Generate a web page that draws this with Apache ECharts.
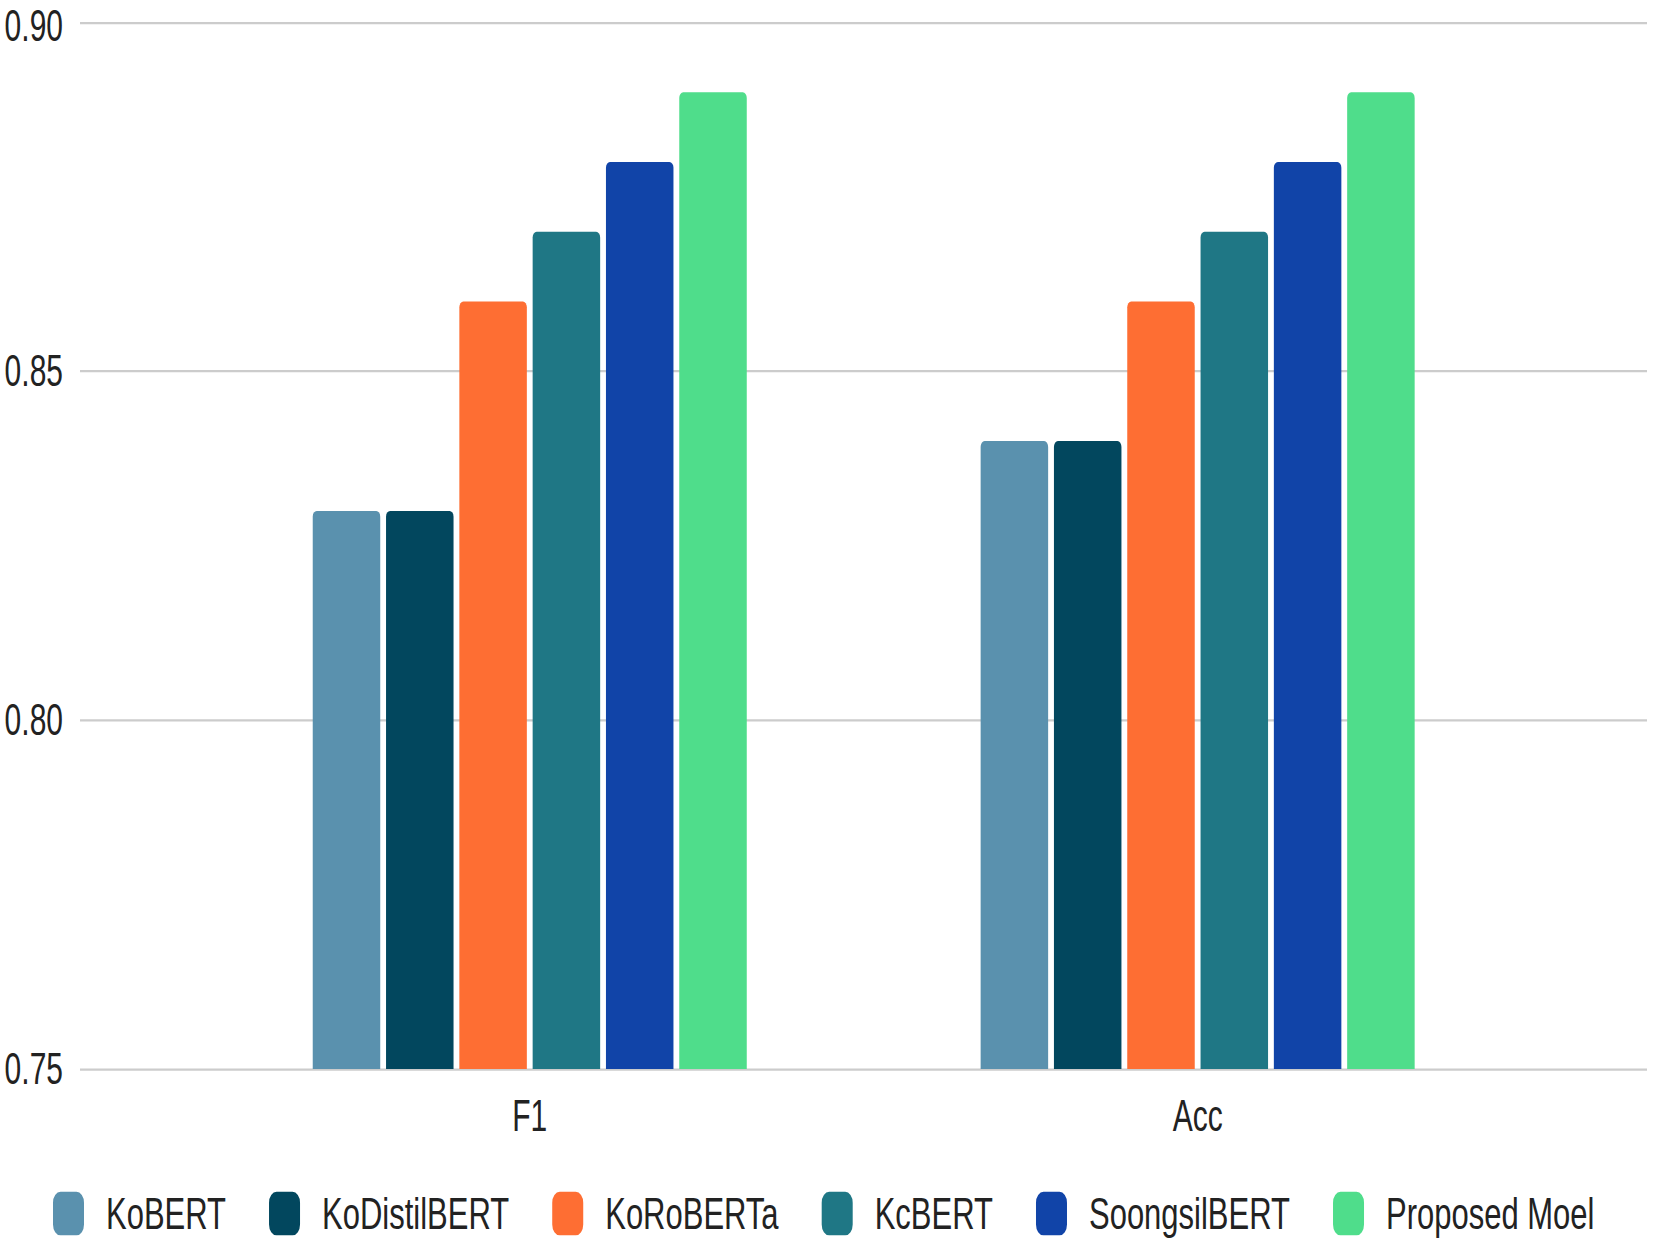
<!DOCTYPE html>
<html>
<head>
<meta charset="utf-8">
<script src="https://cdn.jsdelivr.net/npm/echarts@6/dist/echarts.min.js"></script>
<style>
  html, body { margin: 0; padding: 0; background: #ffffff; overflow: hidden; }
  #wrap { width: 1654px; height: 1245px; overflow: hidden; }
  #chart { width: 1654px; height: 859px; transform: scaleY(1.4494); transform-origin: 0 0; }
</style>
</head>
<body>
<div id="wrap"><div id="chart"></div></div>
<script>
// ---- data ----
const categories = ['F1', 'Acc'];
const seriesNames = ['KoBERT', 'KoDistilBERT', 'KoRoBERTa', 'KcBERT', 'SoongsilBERT', 'Proposed Moel'];
const koBERT       = [0.83, 0.84];
const koDistilBERT = [0.83, 0.84];
const koRoBERTa    = [0.86, 0.86];
const kcBERT       = [0.87, 0.87];
const soongsilBERT = [0.88, 0.88];
const proposedMoel = [0.89, 0.89];
const yTicks = { min: 0.75, max: 0.90, interval: 0.05 };

const seriesValues = [koBERT, koDistilBERT, koRoBERTa, kcBERT, soongsilBERT, proposedMoel];
const colors = ['#5A91AE', '#02475E', '#FE6E33', '#1F7785', '#1144A8', '#4FDD8B'];

const FONT = "'Liberation Sans', Arial, sans-serif";
const TXT = '#222222';
const GRIDC = '#cccccc';

const chart = echarts.init(document.getElementById('chart'), null, { renderer: 'svg' });

const series = seriesNames.map((name, i) => ({
  name: name,
  type: 'bar',
  xAxisIndex: 1,
  yAxisIndex: 1,
  data: seriesValues[i],
  barWidth: 67.5,
  barGap: '8.6%',
  itemStyle: { color: colors[i], borderRadius: [4, 4, 0, 0] },
  emphasis: { disabled: true },
  animation: false
}));

chart.setOption({
  animation: false,
  backgroundColor: '#ffffff',
  color: colors,
  grid: [
    { left: 80, right: 7, top: 15.5, bottom: 121.4, containLabel: false },
    { left: 195.8, right: 122.4, top: 15.5, bottom: 121.4, containLabel: false }
  ],
  xAxis: [
    { gridIndex: 0, type: 'category', data: categories, show: false },
    {
      gridIndex: 1, type: 'category', data: categories,
      axisLine: { show: false }, axisTick: { show: false },
      axisLabel: { fontFamily: FONT, fontSize: 30, color: TXT, margin: 17 }
    }
  ],
  yAxis: [
    {
      gridIndex: 0, type: 'value', min: yTicks.min, max: yTicks.max, interval: yTicks.interval,
      axisLine: { show: false }, axisTick: { show: false },
      axisLabel: {
        fontFamily: FONT, fontSize: 30, color: TXT, margin: 17,
        formatter: v => (Math.abs(v - yTicks.max) < 1e-9 ? '{t|' + v.toFixed(2) + '}' : v.toFixed(2)),
        rich: { t: { fontFamily: FONT, fontSize: 30, color: TXT, padding: [5, 0, 0, 0] } }
      },
      splitLine: { show: true, lineStyle: { color: GRIDC, width: 1.6 } }
    },
    {
      gridIndex: 1, type: 'value', min: yTicks.min, max: yTicks.max, interval: yTicks.interval,
      show: false, splitLine: { show: false }
    }
  ],
  legend: {
    data: seriesNames,
    left: 53,
    top: 821.8,
    padding: 0,
    itemWidth: 31,
    itemHeight: 30,
    itemGap: 43,
    icon: 'roundRect',
    textStyle: { fontFamily: FONT, fontSize: 31, color: TXT, padding: [0, 0, 0, 17] }
  },
  series: series
});
</script>
</body>
</html>
